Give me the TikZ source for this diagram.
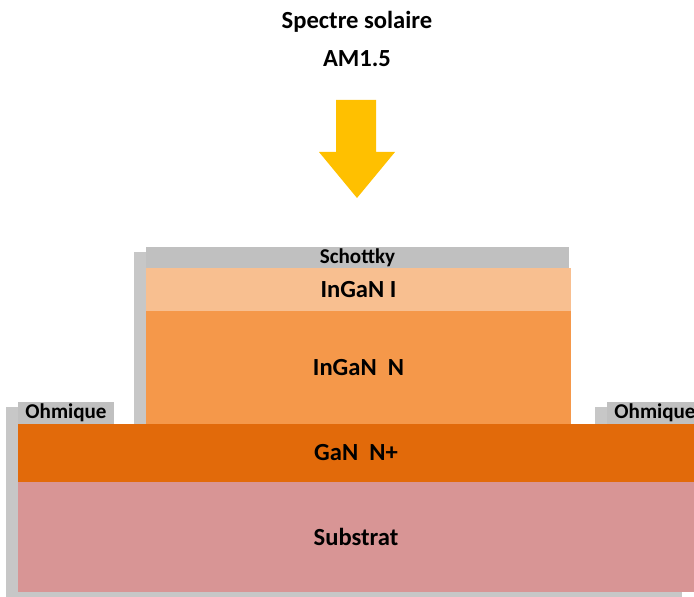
\documentclass[tikz,border=0pt]{standalone}
\usepackage{fontspec}
\setmainfont{Carlito}
\usepackage{tikz}
\usetikzlibrary{arrows.meta,positioning,shadows}
\definecolor{schottkygray}{RGB}{192,192,192}
\definecolor{ingani}{RGB}{248,191,144}
\definecolor{ingann}{RGB}{245,152,74}
\definecolor{gannplus}{RGB}{226,106,10}
\definecolor{substratrose}{RGB}{216,149,149}
\definecolor{sunyellow}{RGB}{255,192,0}

\begin{document}
\begin{tikzpicture}[
    x=0.02cm, y=-0.02cm,
    layer/.style={fill=#1, inner sep=0pt, font=\fontsize{14}{16}\selectfont\bfseries,
        drop shadow={shadow xshift=-0.24cm, shadow yshift=-0.1cm, opacity=0.22, fill=black}},
    contact/.style={layer=schottkygray, font=\fontsize{12}{14}\selectfont\bfseries}
]
\clip (0,0) rectangle (694,597);

% sunlight
\node[align=center, font=\fontsize{14}{21.5}\selectfont\bfseries] (sun) at (357,39) {Spectre solaire\\AM1.5};
\fill[sunyellow] (336,100) -- (376,100) -- (376,152) -- (395,152) -- (357,198)
    -- (319,152) -- (336,152) -- cycle;

% stack, drawn top to bottom
\node[contact, minimum width=8.46cm, minimum height=0.42cm] (schottky) at (357.5,257.5) {Schottky};
\node[layer=ingani, minimum width=8.5cm, minimum height=0.86cm] (inganI) at (358.5,289.5) {InGaN I};
\node[layer=ingann, minimum width=8.5cm, minimum height=2.26cm] (inganN) at (358.5,367.5) {InGaN\ \ N};
\node[contact, minimum width=1.92cm, minimum height=0.44cm] (ohmL) at (66,413) {Ohmique};
\node[contact, minimum width=1.92cm, minimum height=0.44cm] (ohmR) at (655,413) {Ohmique};
\node[layer=gannplus, minimum width=13.52cm, minimum height=1.16cm] (gan) at (356,453) {GaN\ \ N+};
\node[layer=substratrose, minimum width=13.52cm, minimum height=2.2cm] (sub) at (356,537) {Substrat};
\end{tikzpicture}
\end{document}
